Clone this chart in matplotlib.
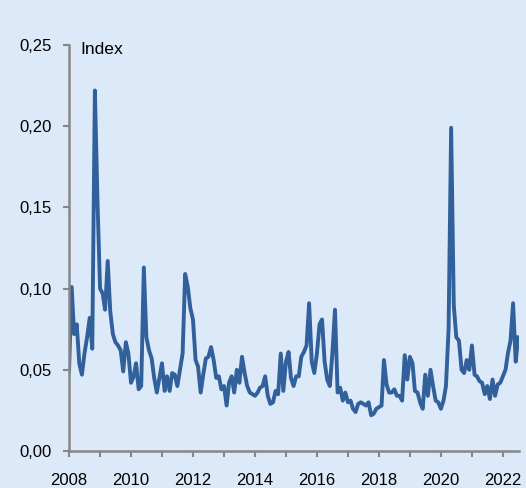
import matplotlib
matplotlib.use("Agg")
import matplotlib.pyplot as plt
import matplotlib.dates as mdates
from matplotlib.ticker import FuncFormatter
import pandas as pd

# monthly index values, Jan 2008 - Jul 2022
v2008 = [0.049, 0.101, 0.072, 0.078, 0.054, 0.047, 0.060, 0.070, 0.082, 0.063, 0.222, 0.155]
v2009 = [0.100, 0.097, 0.087, 0.117, 0.086, 0.072, 0.067, 0.065, 0.062, 0.049, 0.067, 0.060]
v2010 = [0.042, 0.046, 0.054, 0.038, 0.040, 0.113, 0.070, 0.062, 0.057, 0.045, 0.036, 0.045]
v2011 = [0.054, 0.037, 0.046, 0.037, 0.048, 0.047, 0.040, 0.050, 0.060, 0.109, 0.101, 0.088]
v2012 = [0.081, 0.056, 0.052, 0.036, 0.047, 0.057, 0.058, 0.064, 0.056, 0.045, 0.046, 0.038]
v2013 = [0.040, 0.028, 0.042, 0.046, 0.036, 0.050, 0.042, 0.058, 0.048, 0.040, 0.036, 0.035]
v2014 = [0.034, 0.036, 0.039, 0.040, 0.046, 0.034, 0.029, 0.030, 0.037, 0.035, 0.060, 0.037]
v2015 = [0.055, 0.061, 0.045, 0.040, 0.046, 0.046, 0.058, 0.061, 0.065, 0.091, 0.055, 0.048]
v2016 = [0.060, 0.078, 0.081, 0.055, 0.044, 0.040, 0.060, 0.087, 0.036, 0.039, 0.031, 0.036]
v2017 = [0.030, 0.031, 0.026, 0.024, 0.029, 0.030, 0.029, 0.028, 0.030, 0.022, 0.023, 0.026]
v2018 = [0.027, 0.028, 0.056, 0.041, 0.036, 0.036, 0.038, 0.034, 0.034, 0.031, 0.059, 0.044]
v2019 = [0.058, 0.054, 0.037, 0.036, 0.030, 0.026, 0.047, 0.034, 0.050, 0.040, 0.031, 0.030]
v2020 = [0.026, 0.031, 0.040, 0.075, 0.199, 0.090, 0.070, 0.068, 0.050, 0.048, 0.056, 0.050]
v2021 = [0.065, 0.047, 0.046, 0.043, 0.042, 0.035, 0.040, 0.032, 0.044, 0.034, 0.041, 0.042]
v2022 = [0.046, 0.050, 0.060, 0.068, 0.091, 0.055, 0.070]

values = (v2008 + v2009 + v2010 + v2011 + v2012 + v2013 + v2014 + v2015
          + v2016 + v2017 + v2018 + v2019 + v2020 + v2021 + v2022)
dates = pd.date_range("2008-01-01", periods=len(values), freq="MS")
y_ticks = [0.0, 0.05, 0.10, 0.15, 0.20, 0.25]

bg = "#dce9f8"
line_col = "#31609a"
axis_col = "#868686"

plt.rcParams["font.family"] = ["Liberation Sans", "DejaVu Sans"]
plt.rcParams["font.size"] = 12

fig = plt.figure(figsize=(5.26, 4.88), dpi=100, facecolor=bg)
ax = fig.add_axes([0.1312, 0.0758, 0.8555, 0.832])
ax.set_facecolor(bg)

ax.plot(dates, values, color=line_col, linewidth=2.8, solid_joinstyle="round")

ax.set_ylim(0, 0.25)
ax.set_yticks(y_ticks)
ax.yaxis.set_major_formatter(FuncFormatter(lambda v, p: f"{v:.2f}".replace(".", ",")))

ax.set_xlim(pd.Timestamp("2008-01-01"), pd.Timestamp("2022-07-10"))
ax.xaxis.set_major_locator(mdates.YearLocator(1))
ax.xaxis.set_major_formatter(FuncFormatter(
    lambda v, p: str(mdates.num2date(v).year) if mdates.num2date(v).year % 2 == 0 else ""))

for s in ["top", "right"]:
    ax.spines[s].set_visible(False)
for s in ["left", "bottom"]:
    ax.spines[s].set_color(axis_col)
    ax.spines[s].set_linewidth(1.8)

ax.tick_params(axis="y", length=4.5, width=1.5, color=axis_col, pad=8, labelsize=12)
ax.tick_params(axis="x", length=4.5, width=1.5, color=axis_col, pad=11, labelsize=12)

fig.text(80 / 526, 1 - 50 / 488, "Index", ha="left", va="center", fontsize=12.6)

fig.savefig("out.png", dpi=100, facecolor=bg)
